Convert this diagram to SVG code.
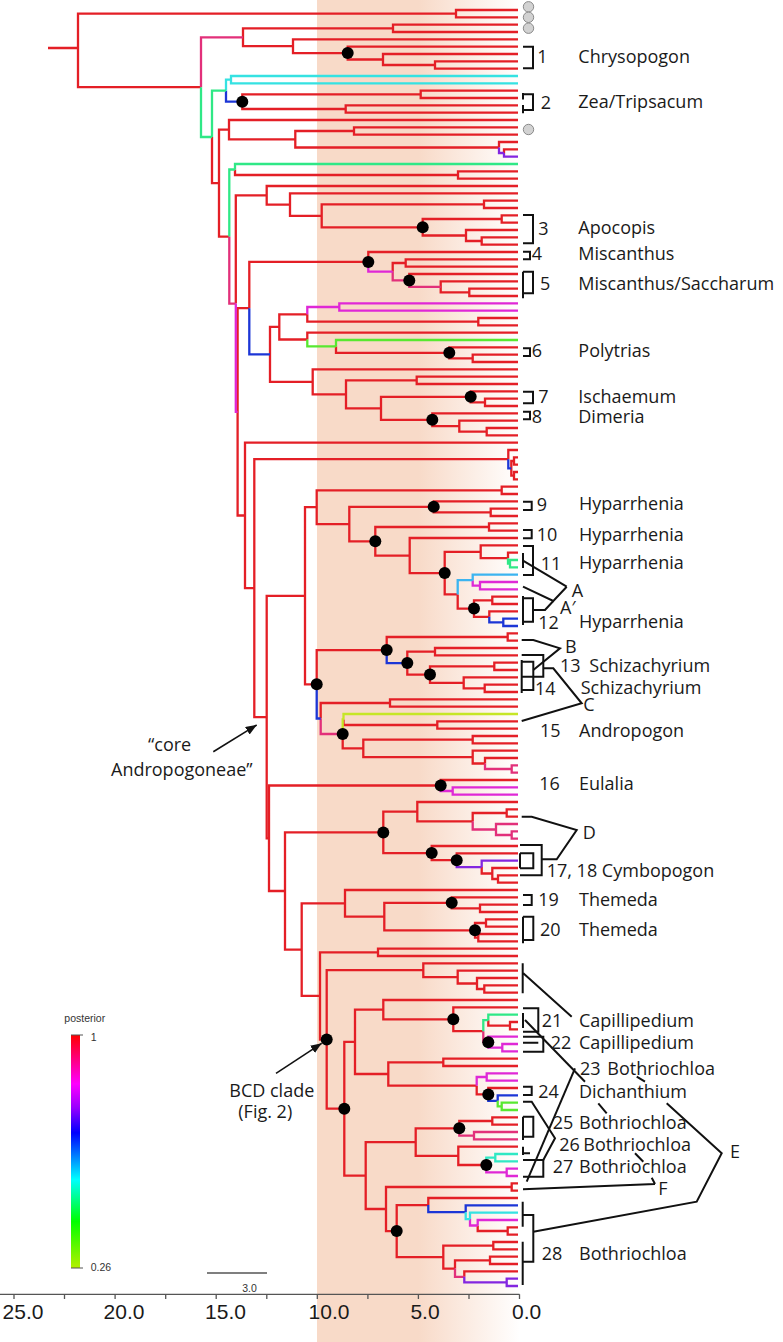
<svg xmlns="http://www.w3.org/2000/svg" width="783" height="1342" viewBox="0 0 783 1342">
<defs>
<linearGradient id="band" x1="317" y1="0" x2="520" y2="0" gradientUnits="userSpaceOnUse">
<stop offset="0" stop-color="#f8dac8"/><stop offset="0.5" stop-color="#f8dac8"/><stop offset="1" stop-color="#ffffff"/>
</linearGradient>
<linearGradient id="post" x1="0" y1="0" x2="0" y2="1">
<stop offset="0" stop-color="#ff0000"/><stop offset="0.21" stop-color="#ff00ff"/><stop offset="0.31" stop-color="#9b00ff"/><stop offset="0.42" stop-color="#0000ff"/><stop offset="0.62" stop-color="#00ffff"/><stop offset="0.8" stop-color="#00ff00"/><stop offset="1" stop-color="#b4f000"/>
</linearGradient>
<marker id="ah" viewBox="0 0 10 8" refX="10" refY="4" markerWidth="11" markerHeight="9" markerUnits="userSpaceOnUse" orient="auto"><path d="M0,0L10,4L0,8z" fill="#111"/></marker>
<style>
.br{fill:none;stroke-width:2.3;stroke-linejoin:miter}
.r{stroke:#e41f26}.pk{stroke:#e2307a}.mg{stroke:#df28d6}.pu{stroke:#8326e0}.bl{stroke:#1c36d6}.cy{stroke:#35e2e2}.lb{stroke:#3cb4f0}.sg{stroke:#2fe886}.aq{stroke:#30e8c4}.lg{stroke:#58e830}.yg{stroke:#c6e626}
.dot{fill:#000}
.gc{fill:#d2d2d2;stroke:#8a8a8a;stroke-width:1}
.bk{fill:none;stroke:#111;stroke-width:2}
.t{font-family:"Open Sans","Liberation Sans",sans-serif;font-size:18px;fill:#1a1a1a}
.ax{font-family:"Liberation Sans",Arial,sans-serif;font-size:21px;fill:#1a1a1a;text-anchor:middle}
.sm{font-family:"Liberation Sans",Arial,sans-serif;font-size:10.5px;fill:#333}
</style>
</defs>
<rect width="783" height="1342" fill="#fff"/>
<rect id="age-band" x="317" y="0" width="203" height="1342" fill="url(#band)"/>

<g id="branches">
<path class="br r" d="M48,48H78M78,48V13.7H456M78,48V87.2H201M456,13.7V10H518M456,13.7V17.3H518M243,37.3V28.3H393M243,37.3V46.2H293M393,28.3V24.7H518M393,28.3V32H518M293,46.2V39.3H518M293,46.2V53.1H347.7M347.7,53.1V46.7H518M347.7,53.1V59.5H383M383,59.5V54H518M383,59.5V65H435M435,65V61.3H518M435,65V68.7H518M212,137V183.2H219M242.3,101.7V94.3H420.7M242.3,101.7V109H345.7M420.7,94.3V90.7H518M420.7,94.3V98H518M345.7,109V105.3H518M345.7,109V112.7H518M219,183.2V129.7H229M219,183.2V236.6H229.3M229,129.7V120H518M229,129.7V139.3H295.3M295.3,139.3V131H354M295.3,139.3V147.5H499M354,131V127.3H518M354,131V134.7H518M499,147.5V142H518M504,153V149.3H518M235,169.5V175H458M458,175V171.3H518M458,175V178.7H518"/>
<path class="br r" d="M235.8,303.6V195.3H266.7M266.7,195.3V186H518M266.7,195.3V204.6H290M290,204.6V193.3H518M290,204.6V215.8H321.7M321.7,215.8V204.3H484M321.7,215.8V227.3H422.7M484,204.3V200.7H518M484,204.3V208H518M422.7,227.3V219H501.7M422.7,227.3V235.5H466M501.7,219V215.3H518M501.7,219V222.7H518M466,235.5V230H518M466,235.5V241H481.7M481.7,241V237.3H518M481.7,241V244.7H518"/>
<path class="br r" d="M237.6,411.9V308.2H249.3M237.6,411.9V515.5H245M249.3,308.2V261.9H368.3M368.3,261.9V252H518M392.7,271.7V263H405.7M405.7,263V259.3H518M405.7,263V266.7H518M409.3,280.4V274H518M440.7,286.8V281.3H518M440.7,286.8V292.3H469.3M469.3,292.3V288.7H518M469.3,292.3V296H518M270,354.4V326.9H279.3M270,354.4V381.8H312.7M279.3,326.9V314.3H307.3M279.3,326.9V339.5H307.3M307.3,314.3V321.7H478.3M478.3,321.7V318H518M478.3,321.7V325.3H518M307.3,339.5V332.7H518M336,346.4V352.8H449.3M449.3,352.8V347.3H518M449.3,352.8V358.3H472.7M472.7,358.3V354.7H518M472.7,358.3V362H518M312.7,381.8V369.3H518M312.7,381.8V394.3H346M346,394.3V380.3H416.7M346,394.3V408.3H381M416.7,380.3V376.7H518M416.7,380.3V384H518M381,408.3V396.8H470.7M381,408.3V419.8H432.3M470.7,396.8V391.3H518M470.7,396.8V402.3H485M485,402.3V398.7H518M485,402.3V406H518M432.3,419.8V413.3H518M432.3,419.8V426.2H459.3M459.3,426.2V420.7H518M459.3,426.2V431.7H486.7M486.7,431.7V428H518M486.7,431.7V435.3H518"/>
<path class="br r" d="M245,515.5V442.7H518M245,515.5V588.2H254.3M254.3,588.2V459.2H508.3M254.3,588.2V717.1H266.7M508.3,459.2V450H518M514,461V457.3H518M514,461V464.7H518M514,475.7V472H518M514,475.7V479.3H518M511.3,468.3V461H514M511.3,468.3V475.7H514M266.7,717.1V595.8H305M266.7,717.1V838.3H269M305,595.8V507.2H316.7M305,595.8V684.3H316.7M316.7,507.2V490.3H501.7M316.7,507.2V524.1H349.3M501.7,490.3V486.7H518M501.7,490.3V494H518M349.3,524.1V506.8H433.7M349.3,524.1V541.3H375.3M433.7,506.8V501.3H518M433.7,506.8V512.3H490.7M490.7,512.3V508.7H518M490.7,512.3V516H518M375.3,541.3V527H489M375.3,541.3V555.6H409.7M489,527V523.3H518M489,527V530.7H518M409.7,555.6V538H518M409.7,555.6V573.1H444.7M444.7,573.1V551.8H480.7M444.7,573.1V594.4H457.7M480.7,551.8V545.3H518M480.7,551.8V558.2H508M508,558.2V552.7H518M457.7,594.4V608.6H474M474,608.6V600.3H492.3M474,608.6V616.8H489.3M492.3,600.3V596.7H518M492.3,600.3V604H518M489.3,616.8V611.3H518"/>
<path class="br r" d="M316.7,684.3V650.1H386.7M386.7,650.1V637H507.7M507.7,637V633.3H518M507.7,637V640.7H518M407.3,663.1V651.7H435M407.3,663.1V674.6H430M435,651.7V648H518M435,651.7V655.3H518M430,674.6V666.3H494.3M430,674.6V682.8H463.7M494.3,666.3V662.7H518M494.3,666.3V670H518M463.7,682.8V677.3H518M463.7,682.8V688.3H484.7M484.7,688.3V684.7H518M484.7,688.3V692H518M320.7,718.5V703H390M390,703V699.3H518M390,703V706.7H518M342.7,734V748.4H363.3M343.5,719.5V725H437.3M437.3,725V721.3H518M437.3,725V728.7H518M363.3,748.4V739.7H472.7M363.3,748.4V757.1H472.7M472.7,739.7V736H518M472.7,739.7V743.3H518M472.7,757.1V750.7H518M472.7,757.1V763.5H485M485,763.5V758H518"/>
<path class="br r" d="M269,838.3V785.5H440.7M269,838.3V891H285M440.7,785.5V780H518M285,891V832.4H383.3M285,891V949.6H301.7M383.3,832.4V811.7H417.3M383.3,832.4V853.1H431.7M417.3,811.7V802H518M417.3,811.7V821.3H472.7M472.7,821.3V813H506.7M506.7,813V809.3H518M506.7,813V816.7H518M431.7,853.1V846H518M431.7,853.1V860.2H456.7M456.7,860.2V853.3H518M481.7,867.1V873.5H492.3M492.3,873.5V868H518M492.3,873.5V879H498M498,879V875.3H518M498,879V882.7H518M301.7,949.6V903.3H345M301.7,949.6V995.9H320M345,903.3V890H518M345,903.3V916.6H384.3M384.3,916.6V902.8H451.7M384.3,916.6V930.3H475M451.7,902.8V897.3H518M451.7,902.8V908.3H480M480,908.3V904.7H518M480,908.3V912H518M475,930.3V923H486M475,930.3V937.7H478.3M486,923V919.3H518M486,923V926.7H518M478.3,937.7V934H518M478.3,937.7V941.3H518M320,995.9V952.3H378M320,995.9V1039.5H326.7M378,952.3V948.7H518M378,952.3V956H518"/>
<path class="br r" d="M326.7,1039.5V970.2H423.3M326.7,1039.5V1108.7H344.3M423.3,970.2V963.3H518M423.3,970.2V977.1H457.7M457.7,977.1V970.7H518M457.7,977.1V983.5H477M477,983.5V978H518M477,983.5V989H484.3M484.3,989V985.3H518M484.3,989V992.7H518M344.3,1108.7V1041.8H355M344.3,1108.7V1175.6H365.7M355,1041.8V1009.6H383.3M355,1041.8V1074H388.3M383.3,1009.6V1000H518M383.3,1009.6V1019.3H453.3M453.3,1019.3V1007.3H518M453.3,1019.3V1031.2H483.3M488.3,1020.2V1025.7H510M510,1025.7V1022H518M510,1025.7V1029.3H518M388.3,1074V1062.3H443.3M388.3,1074V1085.7H476.7M443.3,1062.3V1058.7H518M443.3,1062.3V1066H518M476.7,1085.7V1094.4H488.3M488.3,1094.4V1088H518"/>
<path class="br r" d="M365.7,1175.6V1142.1H415.7M365.7,1175.6V1209H386M415.7,1142.1V1128.3H459.3M415.7,1142.1V1155.8H458.3M459.3,1128.3V1121H492.3M492.3,1121V1117.3H518M492.3,1121V1124.7H518M458.3,1155.8V1146.7H518M458.3,1155.8V1165H486.3M386,1209V1187H511.7M386,1209V1231.1H396.7M511.7,1187V1183.3H518M511.7,1187V1190.7H518M396.7,1231.1V1205.1H428.3M396.7,1231.1V1257.1H443.3M428.3,1205.1V1198H518M477.7,1225.5V1231H507.7M507.7,1231V1227.3H518M507.7,1231V1234.7H518M443.3,1257.1V1245.7H493.3M443.3,1257.1V1268.6H455M493.3,1245.7V1242H518M493.3,1245.7V1249.3H518M455,1268.6V1260.3H490M490,1260.3V1256.7H518M490,1260.3V1264H518M464.3,1276.8V1271.3H518"/>
<path class="br pk" d="M201,87.2V37.3H243M229.3,236.6V303.6H235.8M392.7,271.7V280.4H409.3M409.3,280.4V286.8H440.7M320.7,718.5V734H342.7M472.7,821.3V829.5H496M496,829.5V824H518M496,829.5V835H511.7M511.7,835V831.3H518M511.7,835V838.7H518M485,763.5V769H511.7M511.7,769V765.3H518M511.7,769V772.7H518M483.3,1031.2V1042.2H488.3M459.3,1128.3V1135.7H474M474,1135.7V1132H518M474,1135.7V1139.3H518M455,1268.6V1276.8H464.3"/>
<path class="br mg" d="M235.8,303.6V411.9H237.6M368.3,261.9V271.7H392.7M307.3,314.3V307H339.3M339.3,307V303.3H518M339.3,307V310.7H518M472.7,580.2V585.7H480M480,585.7V582H518M480,585.7V589.3H518M440.7,785.5V791H452.7M452.7,791V787.3H518M452.7,791V794.7H518M488.3,1042.2V1036.7H518M488.3,1042.2V1047.7H502.3M502.3,1047.7V1044H518M502.3,1047.7V1051.3H518M476.7,1085.7V1077H486.7M486.7,1077V1073.3H518M486.7,1077V1080.7H518M486.3,1165V1172.3H506.7M506.7,1172.3V1168.7H518M506.7,1172.3V1176H518M470,1219.1V1225.5H477.7M477.7,1225.5V1220H518"/>
<path class="br pu" d="M499,147.5V153H504M504,153V156.7H518M456.7,860.2V867.1H481.7M481.7,867.1V860.7H518M464.3,1276.8V1282.3H506.7M506.7,1282.3V1278.7H518M506.7,1282.3V1286H518"/>
<path class="br bl" d="M226,90.7V101.7H242.3M249.3,308.2V354.4H270M508.3,459.2V468.3H511.3M489.3,616.8V622.3H503.3M503.3,622.3V618.7H518M503.3,622.3V626H518M386.7,650.1V663.1H407.3M316.7,684.3V718.5H320.7M488.3,1094.4V1100.8H497.7M497.7,1100.8V1095.3H518M428.3,1205.1V1212.2H465.7M465.7,1212.2V1205.3H518"/>
<path class="br cy" d="M226,90.7V79.7H231M231,79.7V76H518M231,79.7V83.3H518M465.7,1212.2V1219.1H470M470,1219.1V1212.7H518"/>
<path class="br lb" d="M457.7,594.4V580.2H472.7M472.7,580.2V574.7H518"/>
<path class="br sg" d="M201,87.2V137H212M212,137V90.7H226M229.3,236.6V169.5H235M235,169.5V164H518M508,558.2V563.7H510M510,563.7V560H518M510,563.7V567.3H518M483.3,1031.2V1020.2H488.3M488.3,1020.2V1014.7H518"/>
<path class="br aq" d="M486.3,1165V1157.7H495.3M495.3,1157.7V1154H518M495.3,1157.7V1161.3H518"/>
<path class="br lg" d="M307.3,339.5V346.4H336M336,346.4V340H518M497.7,1100.8V1106.3H501.7M501.7,1106.3V1102.7H518M501.7,1106.3V1110H518"/>
<path class="br yg" d="M342.7,734V719.5H343.5M343.5,719.5V714H518"/>
</g>

<g id="nodes">
<circle id="n-chrysopogon" class="dot" cx="347.7" cy="53.1" r="6"/>
<circle id="n-zea" class="dot" cx="242.3" cy="101.7" r="6"/>
<circle id="n-apocopis" class="dot" cx="422.7" cy="227.3" r="6"/>
<circle id="n-miscanthus" class="dot" cx="368.3" cy="261.9" r="6"/>
<circle id="n-miscanthus2" class="dot" cx="409.3" cy="280.4" r="6"/>
<circle id="n-polytrias" class="dot" cx="449.3" cy="352.8" r="6"/>
<circle id="n-ischaemum" class="dot" cx="470.7" cy="396.8" r="6"/>
<circle id="n-dimeria" class="dot" cx="432.3" cy="419.8" r="6"/>
<circle id="n-hyp9" class="dot" cx="433.7" cy="506.8" r="6"/>
<circle id="n-hyp10" class="dot" cx="375.3" cy="541.3" r="6"/>
<circle id="n-hyp11" class="dot" cx="444.7" cy="573.1" r="6"/>
<circle id="n-hyp12" class="dot" cx="474" cy="608.6" r="6"/>
<circle id="n-schiz1" class="dot" cx="386.7" cy="650.1" r="6"/>
<circle id="n-schiz2" class="dot" cx="407.3" cy="663.1" r="6"/>
<circle id="n-schiz3" class="dot" cx="430" cy="674.6" r="6"/>
<circle id="n-core1" class="dot" cx="316.7" cy="684.3" r="6"/>
<circle id="n-andropogon" class="dot" cx="342.7" cy="734" r="6"/>
<circle id="n-eulalia" class="dot" cx="440.7" cy="785.5" r="6"/>
<circle id="n-d" class="dot" cx="383.3" cy="832.4" r="6"/>
<circle id="n-cymbo1" class="dot" cx="431.7" cy="853.1" r="6"/>
<circle id="n-cymbo2" class="dot" cx="456.7" cy="860.2" r="6"/>
<circle id="n-themeda1" class="dot" cx="451.7" cy="902.8" r="6"/>
<circle id="n-themeda2" class="dot" cx="475" cy="930.3" r="6"/>
<circle id="n-bcd" class="dot" cx="326.7" cy="1039.5" r="6"/>
<circle id="n-capilli1" class="dot" cx="453.3" cy="1019.3" r="6"/>
<circle id="n-capilli2" class="dot" cx="488.3" cy="1042.2" r="6"/>
<circle id="n-dichanthium" class="dot" cx="488.3" cy="1094.4" r="6"/>
<circle id="n-bcd2" class="dot" cx="344.3" cy="1108.7" r="6"/>
<circle id="n-both25" class="dot" cx="459.3" cy="1128.3" r="6"/>
<circle id="n-both27" class="dot" cx="486.3" cy="1165" r="6"/>
<circle id="n-both28" class="dot" cx="396.7" cy="1231.1" r="6"/>
</g>

<g id="outgroup-markers">
<circle class="gc" cx="528.5" cy="6.8" r="5.2"/>
<circle class="gc" cx="528.5" cy="17.3" r="5.2"/>
<circle class="gc" cx="528.5" cy="28.2" r="5.2"/>
<circle class="gc" cx="528.5" cy="129.5" r="5.2"/>
</g>

<g id="brackets">
<path class="bk" d="M523,46.7H533V68.3H523"/>
<path class="bk" d="M523,94.3H533V110H523M523,93V99.5M523,105V113.3"/>
<path class="bk" d="M523,215H533V243.3H523"/>
<path class="bk" d="M523,251.7H530V259.3H523"/>
<path class="bk" d="M523,271.7H533V293.3H523M523,271.7V298.3"/>
<path class="bk" d="M523,348.3H530V356H523"/>
<path class="bk" d="M523,391.7H533V403.3H523"/>
<path class="bk" d="M523,411.7H530V419.3H523"/>
<path class="bk" d="M523,501.7H531.7V510H523"/>
<path class="bk" d="M523,530H531.7V538.3H523"/>
<path class="bk" d="M523,546H533V575H523M523,553V568"/>
<path class="bk" d="M523,560.7L566.7,586.7M523,586.7L553.3,601L566.7,586.7"/>
<path class="bk" d="M523,598.3H533V621.7H523M523,596V625M533,610H545L553.3,601"/>
<path class="bk" d="M521.7,640H533.3L560,648.3L533.3,670"/>
<path class="bk" d="M521.7,655H543.3V676.7H521.7M521.7,661.7H533.3V690H521.7M521.7,660V693"/>
<path class="bk" d="M543.3,668.3H553.3L581.7,703.3L521.7,721"/>
<path class="bk" d="M521.7,816.7H531.7L576.7,830L556.7,859.3H541.7"/>
<path class="bk" d="M520,845H541.7V875.3H520M520,853.3H533.3V868.3H520M520,853.3V868.3"/>
<path class="bk" d="M523,895H531.7V905H523"/>
<path class="bk" d="M523,916.7H533.3V940H523M523,916.7V943.3"/>
<path class="bk" d="M522.7,963.3V993.3M523.3,973.3L571.7,1016.7"/>
<path class="bk" d="M523,1008.3H538.3V1031.7H523M523,1013V1028"/>
<path class="bk" d="M523,1036.7H543.3V1051.7H523M523,1042.7H538.3"/>
<path class="bk" d="M525,1020L585,1081.7"/>
<path class="bk" d="M523,1086.7H531.7V1095H523"/>
<path class="bk" d="M523,1101.7H531.7L555,1138.3L543.3,1160"/>
<path class="bk" d="M575,1068.3L526.7,1181.7"/>
<path class="bk" d="M523,1116.7H533.3V1136.7H523M523,1116.7V1140"/>
<path class="bk" d="M523,1146.7V1155M523,1153.3H530"/>
<path class="bk" d="M523,1160H543.3V1176.7H523"/>
<path class="bk" d="M523,1189.3L655,1184M651.7,1177.7L655,1184"/>
<path class="bk" d="M666.7,1103.3L721.7,1153.3L696.7,1201.7L533.3,1231.7"/>
<path class="bk" d="M523,1215H533.3V1261.7H523M522.7,1201.7V1226.7M522.7,1241.7V1285"/>
<path class="bk" d="M636.7,1076.7L645,1081.7M598.3,1103.3L606.7,1113.3M635,1153.3L643.3,1161.7"/>
</g>

<g id="labels">
<g id="lab1"><text class="t" x="537.3" y="63">1</text><text class="t" x="578.3" y="62.7">Chrysopogon</text></g>
<g id="lab2"><text class="t" x="540.7" y="109">2</text><text class="t" x="578.3" y="108.3">Zea/Tripsacum</text></g>
<g id="lab3"><text class="t" x="538.3" y="235">3</text><text class="t" x="578.3" y="234.3">Apocopis</text></g>
<g id="lab4"><text class="t" x="531.7" y="260">4</text><text class="t" x="578.3" y="260">Miscanthus</text></g>
<g id="lab5"><text class="t" x="540" y="290">5</text><text class="t" x="578.3" y="290">Miscanthus/Saccharum</text></g>
<g id="lab6"><text class="t" x="531.7" y="356.7">6</text><text class="t" x="578.3" y="356.7">Polytrias</text></g>
<g id="lab7"><text class="t" x="538.3" y="403.3">7</text><text class="t" x="578.3" y="403.3">Ischaemum</text></g>
<g id="lab8"><text class="t" x="531.7" y="423.3">8</text><text class="t" x="578.3" y="423.3">Dimeria</text></g>
<g id="lab9"><text class="t" x="536.7" y="510.7">9</text><text class="t" x="579" y="510">Hyparrhenia</text></g>
<g id="lab10"><text class="t" x="536.7" y="541">10</text><text class="t" x="579" y="541">Hyparrhenia</text></g>
<g id="lab11"><text class="t" x="540.7" y="570">11</text><text class="t" x="579" y="569">Hyparrhenia</text></g>
<g id="labA"><text class="t" x="571.7" y="596.7">A</text></g>
<g id="labA2"><text class="t" x="560" y="614">A′</text></g>
<g id="lab12"><text class="t" x="538.3" y="629.3">12</text><text class="t" x="579" y="628.3">Hyparrhenia</text></g>
<g id="labB"><text class="t" x="565" y="652.7">B</text></g>
<g id="lab13"><text class="t" x="560" y="672.3">13</text><text class="t" x="589.3" y="672.3">Schizachyrium</text></g>
<g id="lab14"><text class="t" x="535" y="695">14</text><text class="t" x="580.7" y="694">Schizachyrium</text></g>
<g id="labC"><text class="t" x="583.3" y="710.7">C</text></g>
<g id="lab15"><text class="t" x="540" y="737.3">15</text><text class="t" x="579" y="737.3">Andropogon</text></g>
<g id="lab16"><text class="t" x="539.3" y="790">16</text><text class="t" x="579" y="790">Eulalia</text></g>
<g id="labD"><text class="t" x="582.7" y="839">D</text></g>
<g id="lab17"><text class="t" x="546.7" y="877.3">17, 18 Cymbopogon</text></g>
<g id="lab19"><text class="t" x="538.3" y="906">19</text><text class="t" x="579" y="906">Themeda</text></g>
<g id="lab20"><text class="t" x="540" y="935.7">20</text><text class="t" x="579" y="935.7">Themeda</text></g>
<g id="lab21"><text class="t" x="541.7" y="1027.3">21</text><text class="t" x="579" y="1027">Capillipedium</text></g>
<g id="lab22"><text class="t" x="550.7" y="1049.3">22</text><text class="t" x="579" y="1049">Capillipedium</text></g>
<g id="lab23"><text class="t" x="580" y="1075">23</text><text class="t" x="607.3" y="1075">Bothriochloa</text></g>
<g id="lab24"><text class="t" x="538.3" y="1098.3">24</text><text class="t" x="579" y="1098">Dichanthium</text></g>
<g id="lab25"><text class="t" x="552.7" y="1129.3">25</text><text class="t" x="579" y="1129.3">Bothriochloa</text></g>
<g id="lab26"><text class="t" x="559.3" y="1150.7">26</text><text class="t" x="583.3" y="1150.7">Bothriochloa</text></g>
<g id="lab27"><text class="t" x="552.7" y="1173.3">27</text><text class="t" x="579" y="1173.3">Bothriochloa</text></g>
<g id="labF"><text class="t" x="658.3" y="1195">F</text></g>
<g id="labE"><text class="t" x="730" y="1158.3">E</text></g>
<g id="lab28"><text class="t" x="541.7" y="1260">28</text><text class="t" x="579" y="1260">Bothriochloa</text></g>
</g>

<g id="annot-core">
<text class="t" x="148" y="751">“core</text>
<text class="t" x="111" y="776">Andropogoneae”</text>
<line x1="213.3" y1="751.7" x2="256.7" y2="725" stroke="#111" stroke-width="1.6" marker-end="url(#ah)"/>
</g>
<g id="annot-bcd">
<text class="t" x="229.3" y="1096.7">BCD clade</text>
<text class="t" x="238.3" y="1118">(Fig. 2)</text>
<line x1="276" y1="1073.3" x2="321.7" y2="1043.3" stroke="#111" stroke-width="1.6" marker-end="url(#ah)"/>
</g>

<g id="legend">
<text class="sm" x="64.3" y="1022" font-size="11">posterior</text>
<rect x="71" y="1035" width="9" height="233" fill="url(#post)"/>
<path d="M71,1035H80M71,1268H80M80,1035H83M80,1268H83" stroke="#555" stroke-width="1" fill="none"/>
<text class="sm" x="90.7" y="1041">1</text>
<text class="sm" x="90.7" y="1271">0.26</text>
</g>

<g id="scale-bar">
<path d="M207,1273H267" stroke="#555" stroke-width="1.5"/>
<text class="sm" x="249.5" y="1292" text-anchor="middle">3.0</text>
</g>

<g id="axis">
<path d="M0,1294.3H519.5M14,1294.3V1299M64.5,1294.3V1299M115.1,1294.3V1299M165.7,1294.3V1299M216.2,1294.3V1299M266.8,1294.3V1299M317.3,1294.3V1299M367.9,1294.3V1299M418.4,1294.3V1299M469,1294.3V1299M519.5,1294.3V1299" stroke="#555" stroke-width="1.3" fill="none"/>
<text class="ax" x="23" y="1319.3">25.0</text>
<text class="ax" x="124" y="1319.3">20.0</text>
<text class="ax" x="225.5" y="1319.3">15.0</text>
<text class="ax" x="329" y="1319.3">10.0</text>
<text class="ax" x="425" y="1319.3">5.0</text>
<text class="ax" x="526.7" y="1319.3">0.0</text>
</g>
</svg>
